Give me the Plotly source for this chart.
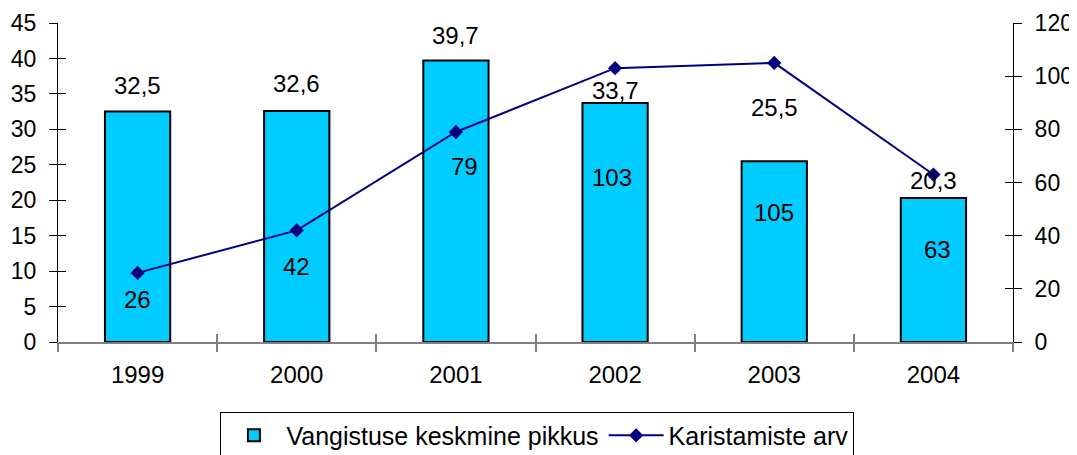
import plotly.graph_objects as go

years = ["1999", "2000", "2001", "2002", "2003", "2004"]
avg_length = [32.5, 32.6, 39.7, 33.7, 25.5, 20.3]
convictions = [26, 42, 79, 103, 105, 63]
bar_label_text = ["32,5", "32,6", "39,7", "33,7", "25,5", "20,3"]
line_label_text = ["26", "42", "79", "103", "105", "63"]

# label placement offsets (pixels), as manually placed in the original
bar_label_dy = [26, 27, 25, 13, 54, 18]
line_label_dy = [-27, -36, -35, -109, -150, -75]
line_label_dx = [0, 0, 9, -3, 0, 4]

FONT = "Arial, Liberation Sans, sans-serif"

fig = go.Figure()
fig.add_trace(go.Bar(
    x=years, y=avg_length, name="Vangistuse keskmine pikkus",
    marker=dict(color="#00CCFF", line=dict(color="black", width=2)),
    width=0.41, yaxis="y",
))
fig.add_trace(go.Scatter(
    x=years, y=convictions, name="Karistamiste arv", mode="lines+markers",
    line=dict(color="#000080", width=2),
    marker=dict(symbol="diamond", size=11, color="#000080"),
    yaxis="y2",
))
# empty helper traces so the overlay axes (inner tick halves) are drawn
fig.add_trace(go.Scatter(x=[], y=[], xaxis="x2", yaxis="y3", showlegend=False, hoverinfo="skip"))
fig.add_trace(go.Scatter(x=[], y=[], xaxis="x2", yaxis="y4", showlegend=False, hoverinfo="skip"))

annotations = []
for i, yr in enumerate(years):
    annotations.append(dict(
        x=i, y=avg_length[i], xref="x", yref="y", text=bar_label_text[i],
        showarrow=False, yshift=bar_label_dy[i], xanchor="center", yanchor="middle",
        font=dict(family=FONT, size=24, color="black")))
    annotations.append(dict(
        x=i, y=convictions[i], xref="x", yref="y2", text=line_label_text[i],
        showarrow=False, yshift=line_label_dy[i], xshift=line_label_dx[i],
        xanchor="center", yanchor="middle",
        font=dict(family=FONT, size=24, color="black")))

# page body has an 8px default margin, so the figure is 8px smaller
fig.update_layout(
    width=1069, height=447,
    margin=dict(l=50, r=64, t=15, b=113, autoexpand=False),
    paper_bgcolor="white", plot_bgcolor="white",
    font=dict(family=FONT, size=23, color="black"),
    showlegend=True,
    legend=dict(orientation="h", x=0.502, xanchor="center", y=-0.218, yanchor="top",
                bordercolor="black", borderwidth=1, font=dict(size=25, family=FONT),
                bgcolor="white", itemwidth=55),
    xaxis=dict(type="category", range=[-0.5, 5.5], showgrid=False, automargin=False,
               showline=True, linecolor="#808080", linewidth=1.5,
               ticks="outside", ticklen=8, tickcolor="#808080", tickwidth=1.5,
               tickson="boundaries", ticklabelstandoff=10,
               tickfont=dict(size=24, family=FONT)),
    yaxis=dict(range=[0, 45], dtick=5, showgrid=False, zeroline=False, automargin=False,
               showline=True, linecolor="black", linewidth=1,
               ticks="outside", ticklen=8, tickcolor="black",
               ticklabelstandoff=8, tickfont=dict(size=23, family=FONT)),
    yaxis2=dict(range=[0, 120], dtick=20, overlaying="y", side="right", automargin=False,
                showgrid=False, zeroline=False,
                showline=True, linecolor="black", linewidth=1,
                ticks="outside", ticklen=8, tickcolor="black",
                ticklabelstandoff=8, tickfont=dict(size=23, family=FONT)),
    yaxis3=dict(range=[0, 45], dtick=5, overlaying="y", side="left", anchor="x2",
                showgrid=False, zeroline=False, showline=False, automargin=False,
                ticks="inside", ticklen=8, tickcolor="black", showticklabels=False),
    yaxis4=dict(range=[0, 120], dtick=20, overlaying="y", side="right", anchor="x2",
                showgrid=False, zeroline=False, showline=False, automargin=False,
                ticks="inside", ticklen=8, tickcolor="black", showticklabels=False),
    xaxis2=dict(range=[-0.5, 5.5], tick0=-0.5, dtick=1, overlaying="x", anchor="y3",
                side="bottom", showgrid=False, zeroline=False, showline=False,
                automargin=False,
                ticks="inside", ticklen=8, tickcolor="#808080", tickwidth=1.5,
                showticklabels=False),
    annotations=annotations,
)

fig.write_html("out.html")
